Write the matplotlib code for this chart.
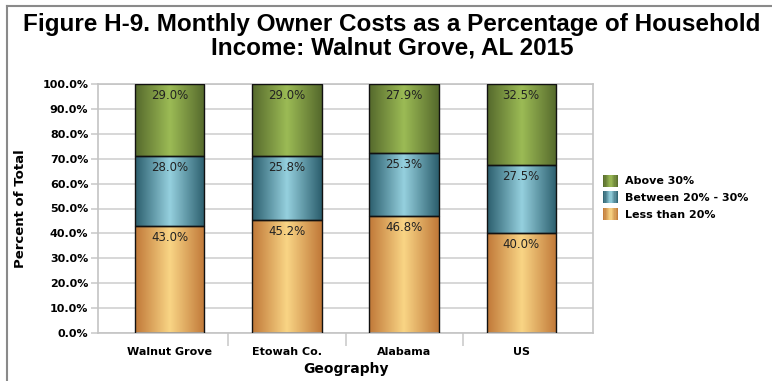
import matplotlib
matplotlib.use("Agg")
import matplotlib.pyplot as plt
import numpy as np
from matplotlib.colors import LinearSegmentedColormap
from matplotlib.patches import Rectangle
from matplotlib.legend_handler import HandlerBase
from matplotlib.lines import Line2D

geographies = ["Walnut Grove", "Etowah Co.", "Alabama", "US"]
series_names = ["Less than 20%", "Between 20% - 30%", "Above 30%"]
less_than_20 = [43.0, 45.2, 46.8, 40.0]
between_20_30 = [28.0, 25.8, 25.3, 27.5]
above_30 = [29.0, 29.0, 27.9, 32.5]
series_values = [less_than_20, between_20_30, above_30]
y_ticks = [0, 10, 20, 30, 40, 50, 60, 70, 80, 90, 100]

# dark edge -> light centre -> dark edge
gradients = [
    ("#c07838", "#f9d585"),
    ("#2b5e6d", "#95d0de"),
    ("#55692c", "#9cbb55"),
]
cmaps = [LinearSegmentedColormap.from_list("g%d" % i, [d, l, d]) for i, (d, l) in enumerate(gradients)]

W, H = 772, 381
fig = plt.figure(figsize=(W / 100, H / 100), dpi=100)
ax = fig.add_axes([98 / W, 48 / H, (593 - 98) / W, (333 - 84) / H])

bar_w = 0.59
grad = np.linspace(0, 1, 256).reshape(1, -1)
x = np.arange(len(geographies))
for s, vals in enumerate(series_values):
    bottoms = np.sum(series_values[:s], axis=0) if s > 0 else np.zeros(len(vals))
    for i, v in enumerate(vals):
        x0, x1 = x[i] - bar_w / 2, x[i] + bar_w / 2
        y0, y1 = bottoms[i], bottoms[i] + v
        ax.imshow(grad, cmap=cmaps[s], aspect="auto", extent=(x0, x1, y0, y1),
                  interpolation="bilinear", zorder=2)
        ax.add_patch(Rectangle((x0, y0), bar_w, v, fill=False, ec="#111111", lw=1.0, zorder=3))
        ax.annotate("%.1f%%" % v, (x[i], y1), xytext=(0, -3.5), textcoords="offset points",
                    ha="center", va="top", fontsize=8.5, color="#222222", zorder=4)

ax.set_xlim(-0.615, 3.615)
ax.set_ylim(0, 100)
ax.set_yticks(y_ticks)
ax.set_yticklabels(["%.1f%%" % t for t in y_ticks], fontsize=8, fontweight="bold")
ax.set_xticks(x)
ax.set_xticklabels(geographies, fontsize=8, fontweight="bold")
ax.set_xticks([0.5, 1.5, 2.5], minor=True)
ax.tick_params(axis="x", which="major", length=0, pad=10)
ax.tick_params(axis="x", which="minor", length=9, color="#cccccc", width=1.2)
ax.tick_params(axis="y", length=5, color="#cccccc", width=1.2, pad=2)
ax.grid(axis="y", color="#d4d4d4", lw=1.3, zorder=0)
ax.set_axisbelow(True)
for side in ["left", "bottom", "right", "top"]:
    ax.spines[side].set_color("#c4c4c4")
    ax.spines[side].set_linewidth(1.2)

ax.set_ylabel("Percent of Total", fontsize=9.5, fontweight="bold", labelpad=11)
ax.set_xlabel("Geography", fontsize=10, fontweight="bold", labelpad=4)


class GradientHandler(HandlerBase):
    def create_artists(self, legend, orig_handle, xdescent, ydescent, width, height, fontsize, trans):
        cm = orig_handle.cmap
        n = 12
        arts = []
        for k in range(n):
            arts.append(Rectangle((-xdescent + k * width / n, -ydescent), width / n, height,
                                  fc=cm((k + 0.5) / n), ec="none", transform=trans))
        return arts


class GradHandle:
    def __init__(self, cmap):
        self.cmap = cmap


handles = [GradHandle(cmaps[2]), GradHandle(cmaps[1]), GradHandle(cmaps[0])]
labels = [series_names[2], series_names[1], series_names[0]]
ax.legend(handles, labels, handler_map={GradHandle: GradientHandler()},
          loc="center left", bbox_to_anchor=(1.0, 0.545), frameon=False,
          prop={"size": 8, "weight": "bold"}, handlelength=1.35, handleheight=1.3,
          handletextpad=0.6, labelspacing=0.4)

title_font = ["Liberation Sans", "DejaVu Sans"]
fig.text(392 / W, 1 - 25 / H, "Figure H-9. Monthly Owner Costs as a Percentage of Household",
         ha="center", va="center", fontsize=17.5, fontweight="bold", family=title_font)
fig.text(392 / W, 1 - 48 / H, "Income: Walnut Grove, AL 2015",
         ha="center", va="center", fontsize=17.5, fontweight="bold", family=title_font)

fig.add_artist(Line2D([7 / W, 7 / W], [0, 1 - 6 / H], color="#8a8a8a", lw=1.5))
fig.add_artist(Line2D([7 / W, 1], [1 - 6 / H, 1 - 6 / H], color="#8a8a8a", lw=1.5))

fig.savefig("out.png", dpi=100)
